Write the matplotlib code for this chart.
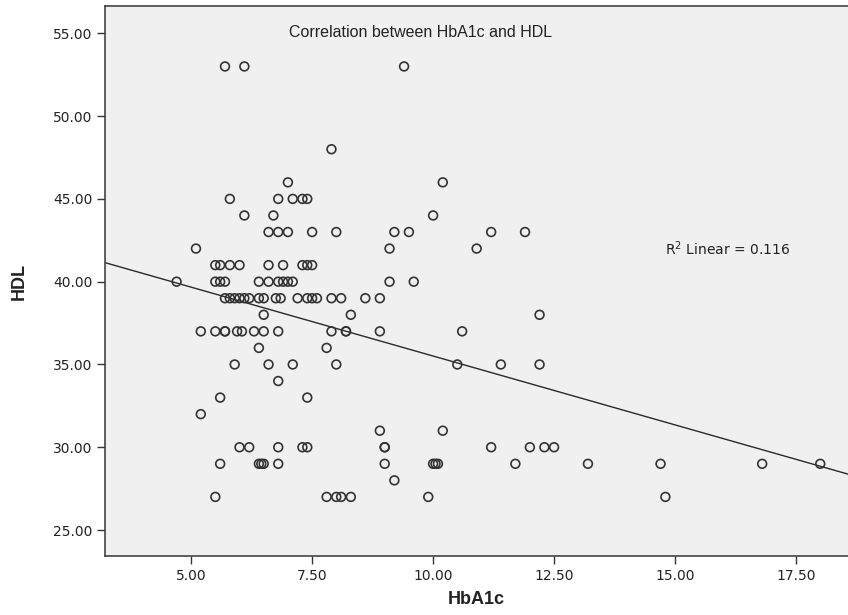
import matplotlib
matplotlib.use("Agg")
import matplotlib.pyplot as plt
import numpy as np

hdl_levels = [53, 48, 46, 45, 44, 43, 42, 41, 40, 39, 38, 37, 36, 35, 34, 33, 32, 31, 30, 29, 28, 27]
hba1c_by_level = [
    [5.7, 6.1, 9.4],
    [7.9],
    [7.0, 10.2],
    [5.8, 6.8, 7.1, 7.3, 7.4],
    [6.1, 6.7, 10.0],
    [6.6, 6.8, 7.0, 7.5, 8.0, 9.2, 9.5, 11.2, 11.9],
    [5.1, 9.1, 10.9],
    [5.5, 5.6, 5.8, 6.0, 6.6, 6.9, 7.3, 7.4, 7.5],
    [4.7, 5.5, 5.6, 5.7, 6.4, 6.6, 6.8, 6.9, 7.0, 7.1, 9.1, 9.6],
    [5.7, 5.8, 5.9, 6.0, 6.1, 6.2, 6.4, 6.5, 6.75, 6.85, 7.2, 7.4, 7.5, 7.6, 7.9, 8.1, 8.6, 8.9],
    [6.5, 8.3, 12.2],
    [5.2, 5.5, 5.7, 5.7, 5.95, 6.05, 6.3, 6.5, 6.8, 7.9, 8.2, 8.2, 8.9, 10.6],
    [6.4, 7.8],
    [5.9, 6.6, 7.1, 8.0, 10.5, 11.4, 12.2],
    [6.8],
    [5.6, 7.4],
    [5.2],
    [8.9, 10.2],
    [6.0, 6.2, 6.8, 7.3, 7.4, 9.0, 9.0, 11.2, 12.0, 12.3, 12.5],
    [5.6, 6.4, 6.45, 6.5, 6.8, 9.0, 10.0, 10.05, 10.1, 11.7, 13.2, 14.7, 16.8, 18.0],
    [9.2],
    [5.5, 7.8, 8.0, 8.1, 8.3, 9.9, 14.8],
]

# fit line as drawn in the reference
fit_intercept = 43.83
fit_slope = -0.832
r2_text = "R$^2$ Linear = 0.116"

x_ticks = [5.0, 7.5, 10.0, 12.5, 15.0, 17.5]
y_ticks = [25, 30, 35, 40, 45, 50, 55]

hba1c = np.array([v for row in hba1c_by_level for v in row])
hdl = np.array([lvl for lvl, row in zip(hdl_levels, hba1c_by_level) for _ in row])

plt.rcParams["font.family"] = ["Liberation Sans", "DejaVu Sans"]

fig = plt.figure(figsize=(8.48, 6.15), dpi=100)
fig.patch.set_facecolor("white")
ax = fig.add_axes([0.1238, 0.0959, 0.876, 0.8943])
ax.set_facecolor("#f0f0f0")

ax.scatter(hba1c, hdl, s=40, facecolors="none", edgecolors="#333333", linewidths=1.2, zorder=3)

xlim = (3.22, 18.57)
xs = np.array(xlim)
ax.plot(xs, fit_intercept + fit_slope * xs, color="#2a2a2a", linewidth=1.0, zorder=2)

ax.set_xlim(*xlim)
ax.set_ylim(23.43, 56.65)
ax.set_xticks(x_ticks)
ax.set_xticklabels([f"{t:.2f}" for t in x_ticks], family="DejaVu Sans")
ax.set_yticks(y_ticks)
ax.set_yticklabels([f"{t:.2f}" for t in y_ticks], family="DejaVu Sans")
ax.tick_params(direction="out", length=6, width=1, pad=3, colors="#333333", labelsize=10, labelcolor="#222222")

for name, spine in ax.spines.items():
    spine.set_color("#444444")
    spine.set_linewidth(1.2)
ax.spines["right"].set_visible(False)

ax.set_xlabel("HbA1c", fontsize=13, fontweight="bold", color="#222222", labelpad=6)
ax.set_ylabel("HDL", fontsize=13, fontweight="bold", color="#222222", labelpad=18)

ax.text(0.4246, 0.951, "Correlation between HbA1c and HDL", transform=ax.transAxes,
        ha="center", va="center", fontsize=11.5, color="#222222")
ax.text(14.79, 42.0, r2_text, ha="left", va="center", fontsize=10, color="#222222",
        family="DejaVu Sans")

fig.savefig("out.png", dpi=100, facecolor=fig.get_facecolor())
